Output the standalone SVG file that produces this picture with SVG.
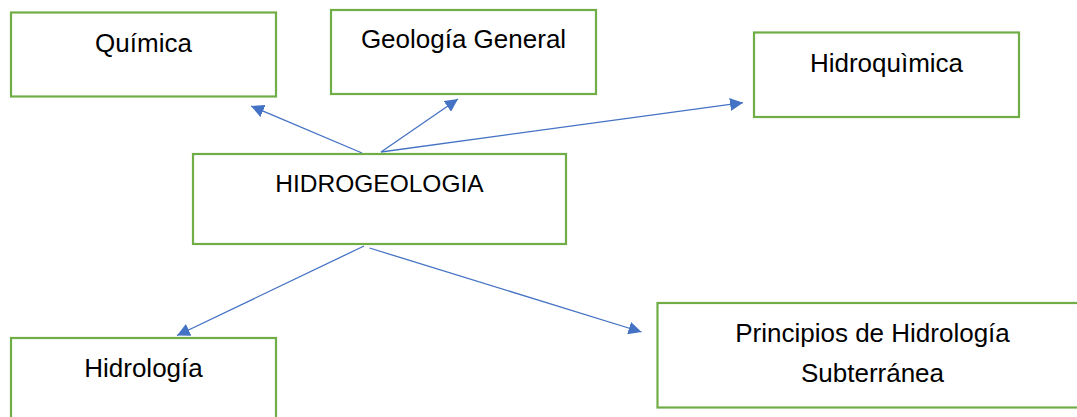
<svg xmlns="http://www.w3.org/2000/svg" width="1077" height="417" viewBox="0 0 1077 417">
  <style>
    .box { fill: #ffffff; stroke: #70AD47; stroke-width: 2.2; }
    .lbl { font-family: "Liberation Sans", Arial, sans-serif; font-size: 26px; fill: #000000; text-anchor: middle; }
    .caps { font-size: 24.5px; }
    .conn { stroke: #4472C4; stroke-width: 1.3; fill: none; marker-end: url(#arrow); }
  </style>
  <defs>
    <marker id="arrow" markerUnits="userSpaceOnUse" markerWidth="14" markerHeight="13" refX="13" refY="6.5" orient="auto">
      <path d="M0,0 L13,6.5 L0,13 z" fill="#4472C4"/>
    </marker>
  </defs>
  <rect width="1077" height="417" fill="#ffffff"/>

  <g id="connectors">
    <line class="conn" x1="362" y1="153" x2="251" y2="106"/>
    <line class="conn" x1="381" y1="152" x2="458" y2="99"/>
    <line class="conn" x1="381" y1="152" x2="743" y2="102.7"/>
    <line class="conn" x1="364" y1="246" x2="177" y2="335.5"/>
    <line class="conn" x1="369.5" y1="248" x2="641.5" y2="332"/>
  </g>

  <g id="quimica">
    <rect class="box" x="11" y="12.5" width="265" height="84"/>
    <text class="lbl" x="143.5" y="52">Química</text>
  </g>
  <g id="geologia-general">
    <rect class="box" x="331" y="10" width="265" height="84"/>
    <text class="lbl" x="463.5" y="48">Geología General</text>
  </g>
  <g id="hidroquimica">
    <rect class="box" x="754" y="32.5" width="265" height="84.5"/>
    <text class="lbl" x="886.5" y="72">Hidroquìmica</text>
  </g>
  <g id="hidrogeologia">
    <rect class="box" x="193" y="154" width="373" height="90"/>
    <text class="lbl caps" x="379.5" y="192">HIDROGEOLOGIA</text>
  </g>
  <g id="hidrologia">
    <rect class="box" x="11" y="338" width="265" height="100"/>
    <text class="lbl" x="143.5" y="377">Hidrología</text>
  </g>
  <g id="principios">
    <rect class="box" x="657.5" y="303" width="431" height="104.5"/>
    <text class="lbl" x="872.5" y="342">Principios de Hidrología</text>
    <text class="lbl" x="872.5" y="382">Subterránea</text>
  </g>
</svg>
